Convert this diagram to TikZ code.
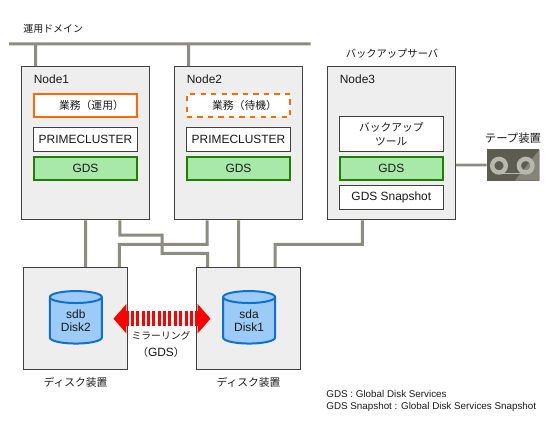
\documentclass[tikz,border=0pt]{standalone}
\usepackage{fontspec}
\setmainfont{Liberation Sans}
\newfontfamily\cjk[Scale=.9]{Noto Sans CJK JP}
\usetikzlibrary{arrows.meta, shapes.geometric}
\definecolor{wire}{HTML}{8C8C80}
\definecolor{edge}{HTML}{404040}
\definecolor{panel}{HTML}{EEEEEE}
\definecolor{gdsfill}{HTML}{A8E8A8}
\definecolor{gdsedge}{HTML}{208000}
\definecolor{jobedge}{HTML}{FF6A00}
\definecolor{diskfill}{HTML}{9CCBF5}
\definecolor{diskedge}{HTML}{1070D0}
\definecolor{tapebody}{HTML}{5C5C50}
\definecolor{tapering}{HTML}{B8B8AE}
\definecolor{tapeside}{HTML}{84847A}
\tikzset{
    every node/.style={font=\fontsize{6.8}{7.8}\selectfont, text=black!90, inner sep=0pt},
    legendtext/.style={font=\fontsize{5.6}{7}\selectfont, anchor=west},
    wirepath/.style={draw=wire, line width=.06cm},
    panelbox/.style={draw=edge, fill=panel, line width=.02cm},
    innerbox/.style={draw=edge, fill=white, line width=.02cm, minimum width=2.07cm, align=center},
    gdsbox/.style={draw=gdsedge, fill=gdsfill, line width=.04cm, minimum width=2.07cm, minimum height=.46cm},
    jobbox/.style={draw=jobedge, fill=white, line width=.04cm, minimum width=2.07cm, minimum height=.46cm},
    diskcyl/.style={shape=cylinder, shape border rotate=90, aspect=.4, draw=diskedge, line width=.04cm,
        cylinder uses custom fill, cylinder body fill=diskfill, cylinder end fill=diskfill,
        minimum width=1.04cm, minimum height=1.05cm, align=center},
    mirrorarrow/.style={draw=red, line width=.31cm, dash pattern=on .06cm off .047cm,
        {Triangle[length=.26cm,width=.58cm]}-{Triangle[length=.26cm,width=.58cm]}}
}
\begin{document}
\begin{tikzpicture}[x=.02cm,y=-.02cm]
    \useasboundingbox (0,0) rectangle (550,422);
    \foreach \n/\x/\job/\st in {1/85.5/運用/,2/238.5/待機/dashed}{
    \node[panelbox, minimum width=2.56cm, minimum height=3.07cm] (node\n) at (\x,143.25) {};
    \node[jobbox, \st] (job\n) at (\x,105.5) {\hspace{.24cm}\cjk 業務（\job）};
    \node[innerbox, minimum height=.48cm] (pcl\n) at (\x,139.5) {PRIMECLUSTER};
    \node[gdsbox] (gds\n) at (\x,168.5) {GDS};
    }
    \node[panelbox, minimum width=2.56cm, minimum height=3.07cm] (node3) at (391.3,143.25) {};
    \node[innerbox, minimum height=.7cm] (tool) at (391.3,134) {\cjk バックアップ\\\cjk ツール};
    \node[gdsbox] (gds3) at (391.3,168.5) {GDS};
    \node[innerbox, minimum height=.48cm] (snap) at (391.3,197.5) {GDS Snapshot};
    \node[anchor=west] (lbl1) at (33.5,79) {Node1};
    \node[anchor=west] (lbl2) at (186.5,79) {Node2};
    \node[anchor=west] (lbl3) at (339.5,79) {Node3};
    \foreach \d/\x/\t/\u in {2/75.25/sdb/Disk2,1/248.5/sda/Disk1}{
    \node[panelbox, minimum width=2.09cm, minimum height=2.04cm] (disk\d) at (\x,318.3) {};
    \node[diskcyl] (cyl\d) at (\x+.6,320.8) {\t\\\u};
    }
    \node (dlbl2) at (75.5,382) {\cjk ディスク装置};
    \node (dlbl1) at (248.5,382) {\cjk ディスク装置};
    \node[anchor=west, font=\fontsize{6.3}{7.8}\selectfont] (lan) at (23,29) {\cjk 運用ドメイン};
    \node[font=\fontsize{6.5}{7.8}\selectfont] (bk) at (392,54) {\cjk バックアップサーバ};
    \node[font=\fontsize{7.2}{7.8}\selectfont] (tlbl) at (513,138) {\cjk テープ装置};
    \node[align=center] (mlbl) at (161,344.5) {\fontsize{6.2}{7.8}\selectfont\cjk ミラーリング\\[1.5pt]{\cjk （}GDS{\cjk ）}};
    \node[legendtext] (leg1) at (326,394) {GDS : Global Disk Services};
    \node[legendtext] (leg2) at (326,407) {GDS Snapshot : Global Disk Services Snapshot};
    \node[fill=tapebody, minimum width=1.05cm, minimum height=.63cm] (tape) at (513.2,165) {};
    \fill[tapeside] (539.5,149.5)--(539.5,180.5)--(515,180.5)--cycle;
    \draw[draw=tapering, line width=.088cm] (499,165.7) circle[radius=6.8];
    \draw[draw=tapering, line width=.088cm] (525.7,165.7) circle[radius=6.8];
    \draw[draw=tapering, line width=.03cm] (499,173.5)--(525.7,173.5);
    \coordinate (lanL) at (9,44);
    \coordinate (lanR) at (310.7,44);
    \coordinate (mirL) at (113.5,318.7);
    \coordinate (mirR) at (210.5,318.7);
    \draw[wirepath]
    (lanL)--(lanR)
    ([xshift=-1cm]node1.north)--([xshift=-1cm]node1.north |- lanL)
    ([xshift=-1cm]node2.north)--([xshift=-1cm]node2.north |- lanL)
    (node1.south)--(node1.south |- disk2.north)
    ([xshift=.69cm]node1.south)|-(162,235)|-(207.5,253.3)--([xshift=-.82cm]disk1.north)
    ([xshift=.885cm]disk2.north)|-(207,244.3)--([xshift=-.63cm]node2.south)
    (node2.south)--(node2.south |- disk1.north)
    ([xshift=.53cm]disk1.north)|-(362.3,244.3)--([xshift=-.58cm]node3.south)
    (tape.west)--(tape.west -| node3.east);
    \draw[mirrorarrow] (mirL)--(mirR);
\end{tikzpicture}
\end{document}
